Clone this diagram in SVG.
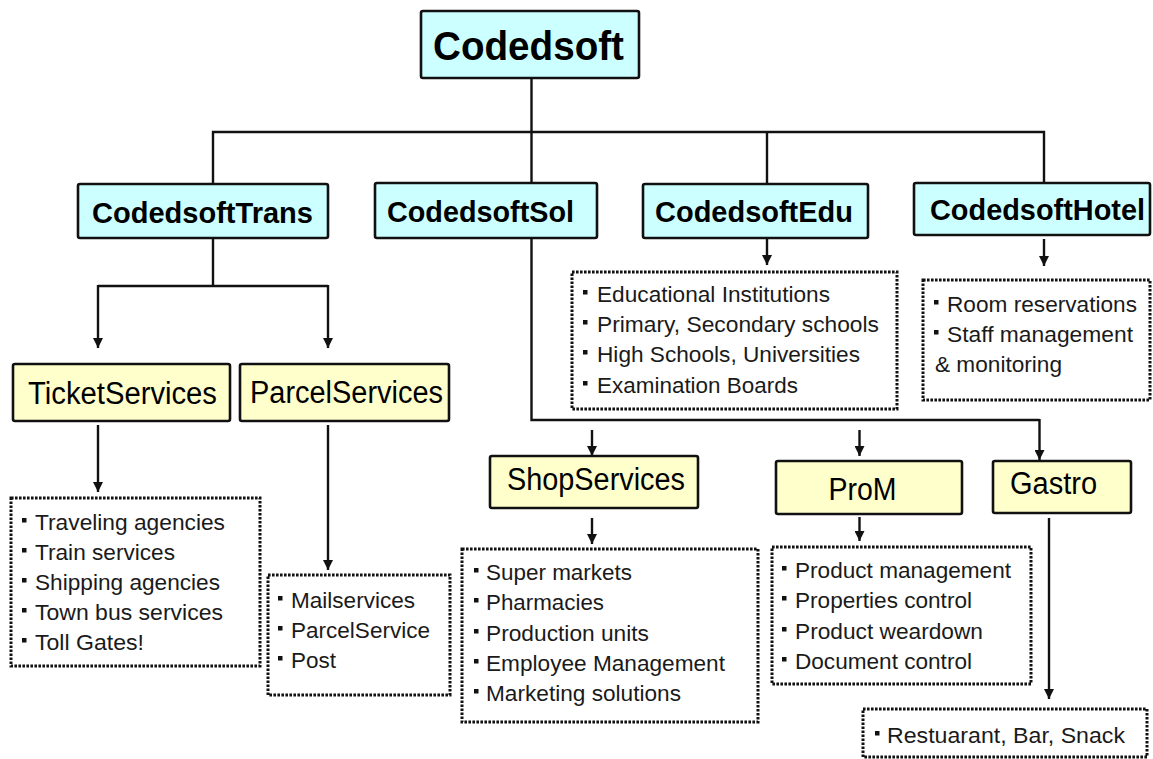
<svg xmlns="http://www.w3.org/2000/svg" width="1153" height="759" viewBox="0 0 1153 759">
<style>
.box{stroke:#111;stroke-width:2.6}
.c{fill:#CCFFFF}
.y{fill:#FFFFCC}
.dot{fill:#fff;stroke:#111;stroke-width:3;stroke-dasharray:2.6 1.4}
.ln{fill:none;stroke:#111;stroke-width:2.4}
.ar{fill:none;stroke:#111;stroke-width:2.4;marker-end:url(#ah)}
.tb{font-family:"Liberation Sans",Arial,sans-serif;font-weight:bold;fill:#000}
.tr{font-family:"Liberation Sans",Arial,sans-serif;fill:#000;font-size:31px}
.li{font-family:"Liberation Sans",Arial,sans-serif;fill:#1a1a1a;font-size:22.5px}
.bu{fill:#111}
</style>
<defs>
<marker id="ah" viewBox="0 0 10 10" refX="10" refY="5" markerWidth="11" markerHeight="10" markerUnits="userSpaceOnUse" orient="auto">
<path d="M0,0 L10,5 L0,10 z" fill="#111"/>
</marker>
<rect id="b" width="4.5" height="4.5"/>
</defs>
<rect width="1153" height="759" fill="#fff"/>

<g id="connectors">
<path class="ln" d="M531.5,78 V183"/>
<path class="ln" d="M213,184 V132 H1044 V183"/>
<path class="ln" d="M767,132 V184"/>
<path class="ln" d="M213,238 V286"/>
<path class="ln" d="M98,286 H328"/>
<path class="ar" d="M98,285 V348"/>
<path class="ar" d="M328,285 V348"/>
<path class="ar" d="M98,425 V492"/>
<path class="ar" d="M328,425 V570"/>
<path class="ar" d="M767,238 V265"/>
<path class="ar" d="M1044,239 V266"/>
<path class="ln" d="M531.5,238 V420 H1039.5"/>
<path class="ar" d="M1039.5,419 V460"/>
<path class="ar" d="M592,430 V456"/>
<path class="ar" d="M859.5,430 V456"/>
<path class="ar" d="M592,518 V544"/>
<path class="ar" d="M859.5,517 V541"/>
<path class="ar" d="M1049,518 V699"/>
</g>

<g id="root">
<rect class="box c" x="421" y="11" width="218" height="67" rx="2"/>
<text class="tb" x="433" y="60" font-size="40" textLength="191" lengthAdjust="spacingAndGlyphs">Codedsoft</text>
</g>
<g id="trans">
<rect class="box c" x="78" y="184" width="250" height="54" rx="2"/>
<text class="tb" x="92" y="222.5" font-size="29" textLength="221" lengthAdjust="spacingAndGlyphs">CodedsoftTrans</text>
</g>
<g id="sol">
<rect class="box c" x="375" y="183" width="222" height="55" rx="2"/>
<text class="tb" x="387" y="222" font-size="29" textLength="187" lengthAdjust="spacingAndGlyphs">CodedsoftSol</text>
</g>
<g id="edu">
<rect class="box c" x="643" y="184" width="225" height="54" rx="2"/>
<text class="tb" x="655" y="222.3" font-size="29" textLength="198" lengthAdjust="spacingAndGlyphs">CodedsoftEdu</text>
</g>
<g id="hotel">
<rect class="box c" x="914" y="183" width="236" height="52" rx="2"/>
<text class="tb" x="930" y="220" font-size="29" textLength="215" lengthAdjust="spacingAndGlyphs">CodedsoftHotel</text>
</g>

<g id="ticket">
<rect class="box y" x="13" y="364" width="217" height="57" rx="2"/>
<text class="tr" x="28" y="404" textLength="189" lengthAdjust="spacingAndGlyphs">TicketServices</text>
</g>
<g id="parcel">
<rect class="box y" x="240" y="364" width="209" height="57" rx="2"/>
<text class="tr" x="250" y="403" textLength="193" lengthAdjust="spacingAndGlyphs">ParcelServices</text>
</g>
<g id="shop">
<rect class="box y" x="490" y="456" width="208" height="52" rx="2"/>
<text class="tr" x="507" y="490" textLength="178" lengthAdjust="spacingAndGlyphs">ShopServices</text>
</g>
<g id="prom">
<rect class="box y" x="776" y="461" width="186" height="53" rx="2"/>
<text class="tr" x="828.5" y="500" textLength="68" lengthAdjust="spacingAndGlyphs">ProM</text>
</g>
<g id="gastro">
<rect class="box y" x="993" y="461" width="138" height="52" rx="2"/>
<text class="tr" x="1010" y="494" textLength="87" lengthAdjust="spacingAndGlyphs">Gastro</text>
</g>

<g id="ticket-list">
<rect class="dot" x="11" y="498" width="249" height="168"/>
<use href="#b" class="bu" x="22" y="518"/>
<use href="#b" class="bu" x="22" y="548"/>
<use href="#b" class="bu" x="22" y="578"/>
<use href="#b" class="bu" x="22" y="608"/>
<use href="#b" class="bu" x="22" y="638"/>
<text class="li" x="35" y="530" textLength="190" lengthAdjust="spacingAndGlyphs">Traveling agencies</text>
<text class="li" x="35" y="560" textLength="140" lengthAdjust="spacingAndGlyphs">Train services</text>
<text class="li" x="35" y="590" textLength="185" lengthAdjust="spacingAndGlyphs">Shipping agencies</text>
<text class="li" x="35" y="620" textLength="188" lengthAdjust="spacingAndGlyphs">Town bus services</text>
<text class="li" x="35" y="650" textLength="109" lengthAdjust="spacingAndGlyphs">Toll Gates!</text>
</g>

<g id="parcel-list">
<rect class="dot" x="268" y="575" width="182" height="120"/>
<use href="#b" class="bu" x="278" y="596"/>
<use href="#b" class="bu" x="278" y="626"/>
<use href="#b" class="bu" x="278" y="656"/>
<text class="li" x="291" y="608" textLength="124" lengthAdjust="spacingAndGlyphs">Mailservices</text>
<text class="li" x="291" y="638" textLength="139" lengthAdjust="spacingAndGlyphs">ParcelService</text>
<text class="li" x="291" y="668" textLength="45" lengthAdjust="spacingAndGlyphs">Post</text>
</g>

<g id="edu-list">
<rect class="dot" x="572" y="272" width="325" height="137"/>
<use href="#b" class="bu" x="583" y="290"/>
<use href="#b" class="bu" x="583" y="320"/>
<use href="#b" class="bu" x="583" y="350"/>
<use href="#b" class="bu" x="583" y="381"/>
<text class="li" x="597" y="302" textLength="233" lengthAdjust="spacingAndGlyphs">Educational Institutions</text>
<text class="li" x="597" y="332" textLength="282" lengthAdjust="spacingAndGlyphs">Primary, Secondary schools</text>
<text class="li" x="597" y="362" textLength="263" lengthAdjust="spacingAndGlyphs">High Schools, Universities</text>
<text class="li" x="597" y="393" textLength="201" lengthAdjust="spacingAndGlyphs">Examination Boards</text>
</g>

<g id="hotel-list">
<rect class="dot" x="923" y="280" width="227" height="120"/>
<use href="#b" class="bu" x="934" y="300"/>
<use href="#b" class="bu" x="934" y="330"/>
<text class="li" x="947" y="312" textLength="190" lengthAdjust="spacingAndGlyphs">Room reservations</text>
<text class="li" x="947" y="342" textLength="186" lengthAdjust="spacingAndGlyphs">Staff management</text>
<text class="li" x="935" y="372" textLength="127" lengthAdjust="spacingAndGlyphs">&amp; monitoring</text>
</g>

<g id="shop-list">
<rect class="dot" x="462" y="549" width="296" height="173"/>
<use href="#b" class="bu" x="474" y="568"/>
<use href="#b" class="bu" x="474" y="598"/>
<use href="#b" class="bu" x="474" y="629"/>
<use href="#b" class="bu" x="474" y="659"/>
<use href="#b" class="bu" x="474" y="689"/>
<text class="li" x="486" y="580" textLength="146" lengthAdjust="spacingAndGlyphs">Super markets</text>
<text class="li" x="486" y="610" textLength="118" lengthAdjust="spacingAndGlyphs">Pharmacies</text>
<text class="li" x="486" y="641" textLength="163" lengthAdjust="spacingAndGlyphs">Production units</text>
<text class="li" x="486" y="671" textLength="239" lengthAdjust="spacingAndGlyphs">Employee Management</text>
<text class="li" x="486" y="701" textLength="195" lengthAdjust="spacingAndGlyphs">Marketing solutions</text>
</g>

<g id="prom-list">
<rect class="dot" x="772" y="547" width="259" height="137"/>
<use href="#b" class="bu" x="782" y="566"/>
<use href="#b" class="bu" x="782" y="596"/>
<use href="#b" class="bu" x="782" y="627"/>
<use href="#b" class="bu" x="782" y="657"/>
<text class="li" x="795" y="578" textLength="216" lengthAdjust="spacingAndGlyphs">Product management</text>
<text class="li" x="795" y="608" textLength="177" lengthAdjust="spacingAndGlyphs">Properties control</text>
<text class="li" x="795" y="639" textLength="188" lengthAdjust="spacingAndGlyphs">Product weardown</text>
<text class="li" x="795" y="669" textLength="177" lengthAdjust="spacingAndGlyphs">Document control</text>
</g>

<g id="gastro-list">
<rect class="dot" x="863" y="709" width="284" height="48"/>
<use href="#b" class="bu" x="875" y="731"/>
<text class="li" x="887" y="743" textLength="238" lengthAdjust="spacingAndGlyphs">Restuarant, Bar, Snack</text>
</g>
</svg>
